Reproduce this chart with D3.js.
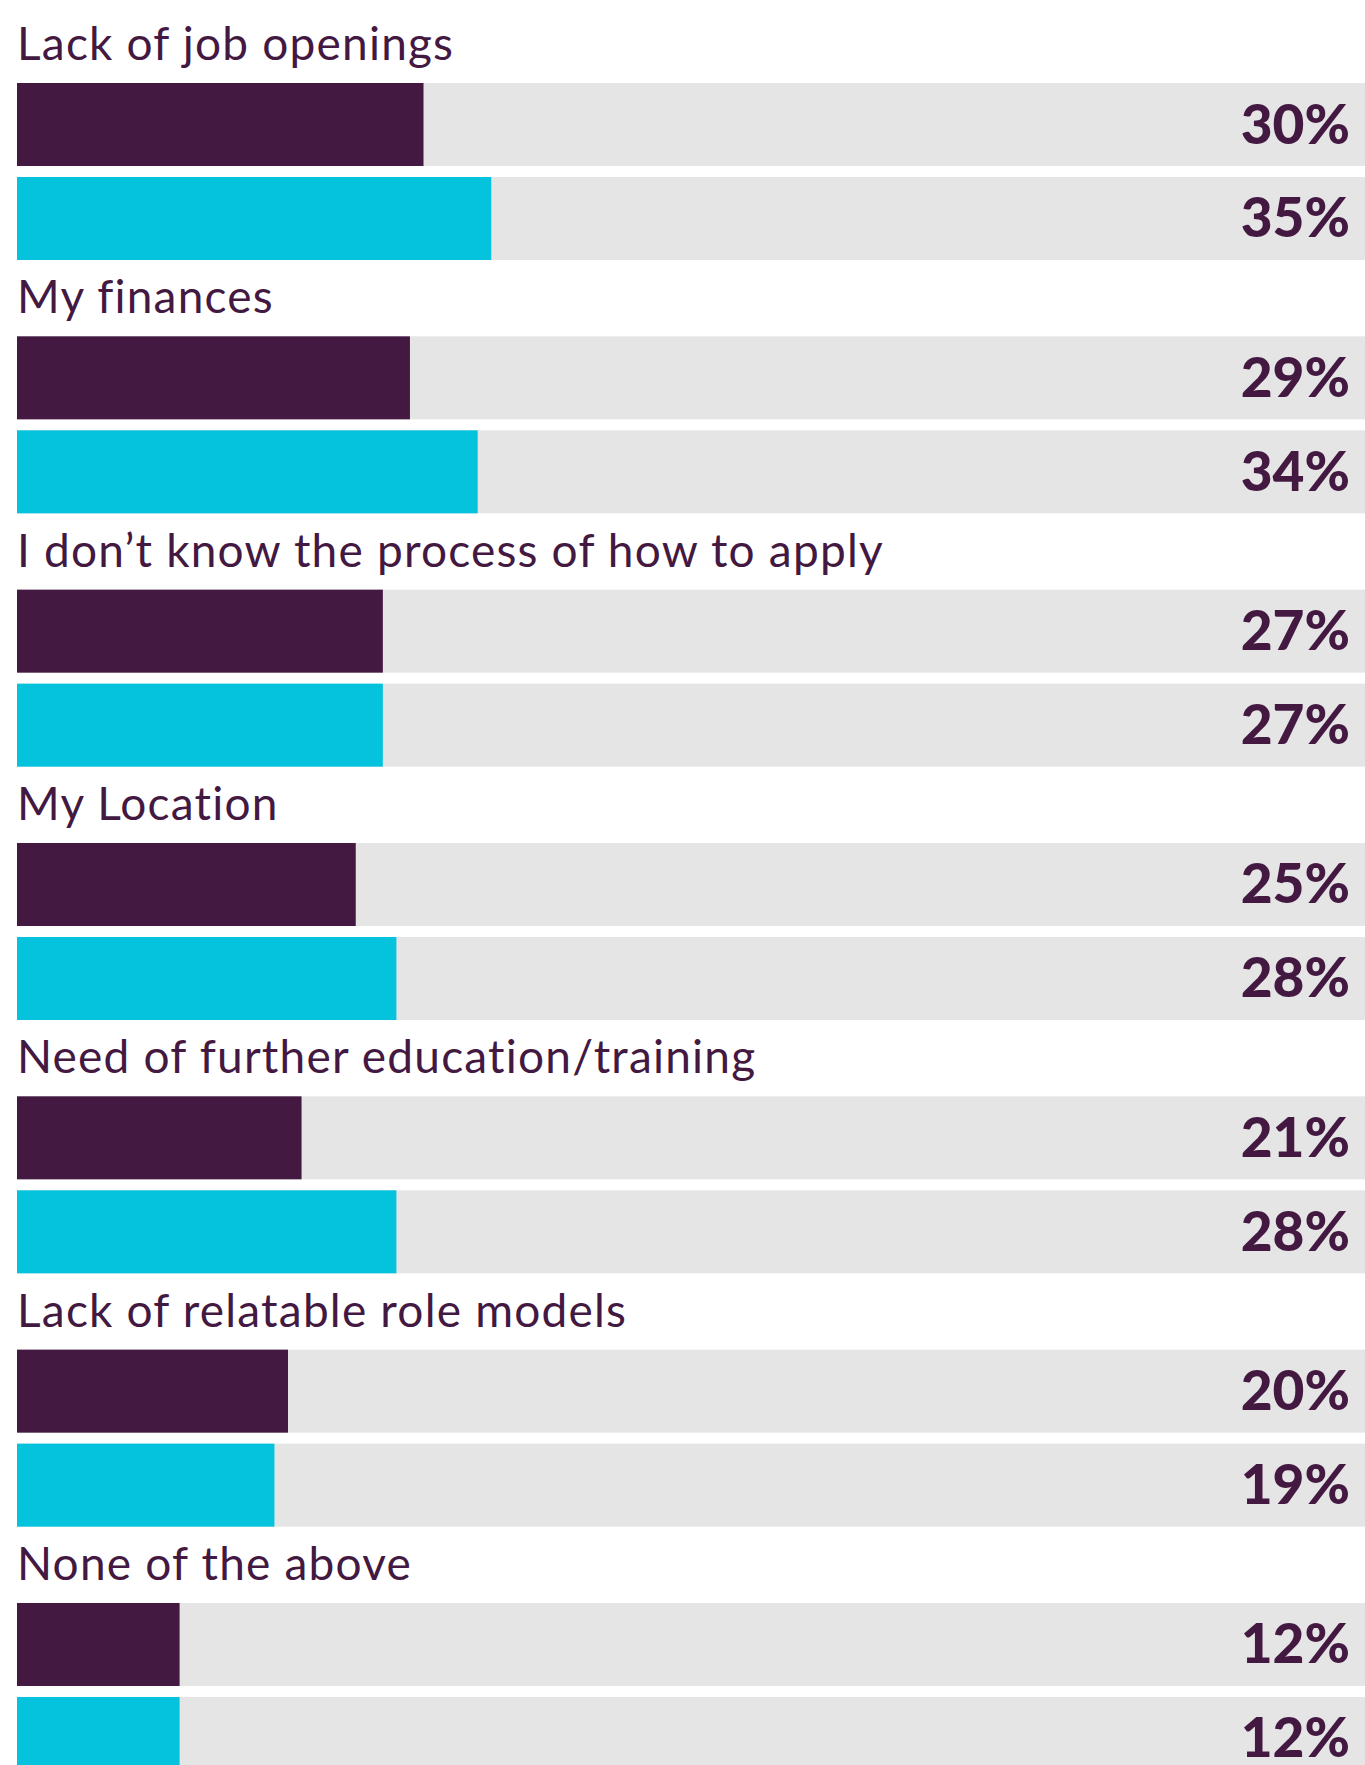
<!DOCTYPE html>
<html>
<head>
<meta charset="utf-8">
<script src="https://cdn.jsdelivr.net/npm/d3@7"></script>
<style>
  body { margin: 0; background: #fff; }
  svg { display: block; }
</style>
</head>
<body>
<svg></svg>
<script>
// categories and the two series (percent)
var categories = [
    "Lack of job openings",
    "My finances",
    "I don\u2019t know the process of how to apply",
    "My Location",
    "Need of further education/training",
    "Lack of relatable role models",
    "None of the above"
];
var series = ["first", "second"];
var firstValues = [30, 29, 27, 25, 21, 20, 12];
var secondValues = [35, 34, 27, 28, 28, 19, 12];

var width = 1365, height = 1765;
var purple = "#431942", teal = "#05c3dd", grey = "#e5e5e5";

var svg = d3.select('svg')
    .attr('width', width)
    .attr('height', height);

// x: percent -> pixels
var x = d3.scaleLinear().domain([0, 100]).range([17, 1372]);

// one band per question (label + two bars)
var y = d3.scaleBand().domain(categories).range([24, 24 + 253.33 * categories.length]);

// bars inside a group
var inner = d3.scaleBand().domain(series).range([59, 59 + 177]).paddingInner(0.117);

var rows = [];
categories.forEach(function (c, i) {
    rows.push({cat: c, s: "first", v: firstValues[i], color: purple});
    rows.push({cat: c, s: "second", v: secondValues[i], color: teal});
});

var groups = svg.selectAll('g.group')
    .data(categories)
    .enter().append('g')
    .attr('class', 'group')
    .attr('transform', function (d) { return 'translate(0,' + y(d) + ')'; });

groups.append('text')
    .attr('x', 17)
    .attr('y', 36)
    .attr('fill', purple)
    .style('font-family', 'Lato, sans-serif')
    .style('font-size', '46px')
    .style('letter-spacing', '1.2px')
    .text(function (d) { return d; });

// grey track
svg.selectAll('rect.track')
    .data(rows)
    .enter().append('rect')
    .attr('class', 'track')
    .attr('x', x(0))
    .attr('y', function (d) { return y(d.cat) + inner(d.s); })
    .attr('width', width - x(0))
    .attr('height', inner.bandwidth())
    .attr('fill', grey);

// value bars
svg.selectAll('rect.bar')
    .data(rows)
    .enter().append('rect')
    .attr('class', 'bar')
    .attr('x', x(0))
    .attr('y', function (d) { return y(d.cat) + inner(d.s); })
    .attr('width', function (d) { return x(d.v) - x(0); })
    .attr('height', inner.bandwidth())
    .attr('fill', function (d) { return d.color; });

// value labels
svg.selectAll('text.value')
    .data(rows)
    .enter().append('text')
    .attr('class', 'value')
    .attr('x', 1350)
    .attr('y', function (d) { return y(d.cat) + inner(d.s) + inner.bandwidth() / 2 + 19; })
    .attr('text-anchor', 'end')
    .attr('fill', purple)
    .style('font-family', 'Lato, sans-serif')
    .style('font-weight', '900')
    .style('font-size', '55px')
    .text(function (d) { return d.v + '%'; });
</script>
</body>
</html>
